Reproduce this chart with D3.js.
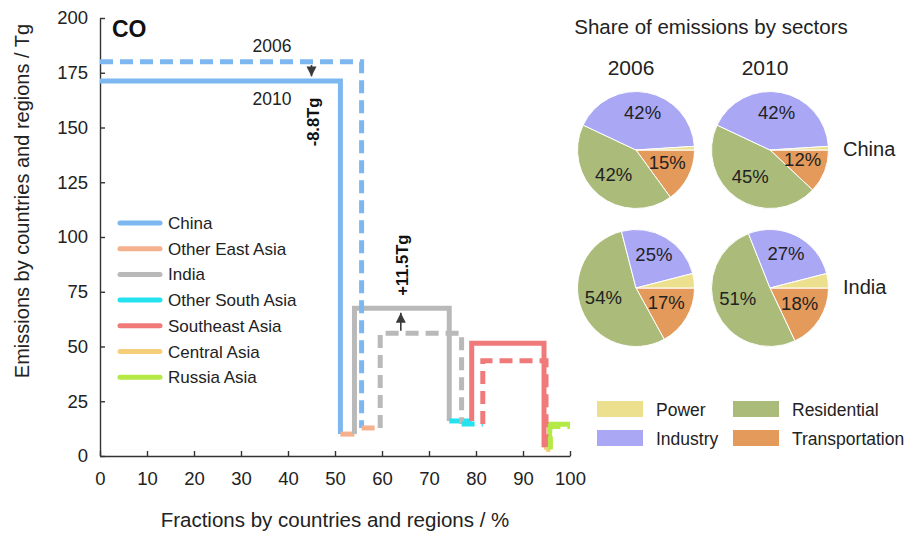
<!DOCTYPE html>
<html>
<head>
<meta charset="utf-8">
<script src="https://cdn.jsdelivr.net/npm/d3@7"></script>
<style>
  html, body { margin: 0; padding: 0; background: #fff; }
  svg { display: block; font-family: "Liberation Sans", Arial, sans-serif; }
</style>
</head>
<body>
<svg id="chart" width="917" height="536"></svg>
<script>
// Regions along the cumulative axis, in drawing order
const regions = ["China", "Other East Asia", "India", "Other South Asia", "Southeast Asia", "Central Asia", "Russia Asia"];
const regionColors = ["#7db7f0", "#f5b08e", "#b9b9b9", "#25e3ee", "#f07a7a", "#f5cf7c", "#b5e945"];
// CO emissions by region (Tg)
const emis2006 = [180, 12.8, 56, 14.6, 43.5, 3, 13.5];
const emis2010 = [171.2, 10, 67.5, 16, 51.5, 4, 14.5];

const xTicks = [0, 10, 20, 30, 40, 50, 60, 70, 80, 90, 100];
const yTicks = [0, 25, 50, 75, 100, 125, 150, 175, 200];

// Sector shares (%) for the pies
const sectors = ["Power", "Industry", "Residential", "Transportation"];
const sectorColors = ["#ece08e", "#aaa7f4", "#abbb79", "#e49a5a"];
const pieYears = ["2006", "2010"];
const pieCountries = ["China", "India"];
const chinaShares2006 = [1, 42, 42, 15];
const chinaShares2010 = [1, 42, 45, 12];
const indiaShares2006 = [4, 25, 54, 17];
const indiaShares2010 = [4, 27, 51, 18];

const svg = d3.select("#chart");
const x = d3.scaleLinear().domain([0, 100]).range([100, 570]);
const y = d3.scaleLinear().domain([0, 200]).range([456, 18]);
const textColor = "#222";

// Axes with inward ticks
const xAxis = svg.append("g").attr("transform", `translate(0,${y(0)})`)
  .call(d3.axisBottom(x).tickValues(xTicks).tickSizeInner(-5).tickSizeOuter(0).tickPadding(16));
const yAxis = svg.append("g").attr("transform", `translate(${x(0)},0)`)
  .call(d3.axisLeft(y).tickValues(yTicks).tickSizeInner(-5).tickSizeOuter(0).tickPadding(12));
[xAxis, yAxis].forEach(g => {
  g.selectAll(".domain").attr("stroke", "#333").attr("stroke-width", 1.4);
  g.selectAll(".tick line").attr("stroke", "#333").attr("stroke-width", 1.4);
  g.selectAll("text").attr("font-size", 18.5).attr("fill", textColor).attr("font-family", "Liberation Sans, Arial, sans-serif");
});

svg.append("text").attr("x", x(50)).attr("y", 527).attr("text-anchor", "middle")
  .attr("font-size", 20.5).attr("fill", textColor).text("Fractions by countries and regions / %");
svg.append("text").attr("transform", `translate(29,201) rotate(-90)`).attr("text-anchor", "middle")
  .attr("font-size", 20).attr("fill", textColor).text("Emissions by countries and regions / Tg");

svg.append("text").attr("x", 112).attr("y", 37).attr("font-size", 23).attr("font-weight", "bold")
  .attr("fill", "#111").text("CO");

// Step outline per region: width = share of the total, height = emission
function drawSeries(values, dash) {
  const total = d3.sum(values);
  const cum = d3.cumsum(values).map(v => v / total * 100);
  const line = d3.line().x(d => x(d[0])).y(d => y(d[1]));
  values.forEach((v, i) => {
    const x0 = i === 0 ? 0 : cum[i - 1];
    const x1 = cum[i];
    const prev = i === 0 ? v : values[i - 1];
    const next = i === values.length - 1 ? v : values[i + 1];
    const pts = [[x0, Math.min(v, prev)], [x0, v], [x1, v], [x1, Math.min(v, next)]];
    svg.append("path").attr("d", line(pts)).attr("fill", "none")
      .attr("stroke", regionColors[i]).attr("stroke-width", 5)
      .attr("stroke-dasharray", dash).attr("stroke-linejoin", "miter");
  });
}
drawSeries(emis2010, null);
drawSeries(emis2006, "13,7");

// Change arrows
const defs = svg.append("defs");
defs.append("marker").attr("id", "head").attr("viewBox", "0 0 10 10").attr("refX", 10).attr("refY", 5)
  .attr("markerWidth", 10).attr("markerHeight", 11).attr("markerUnits", "userSpaceOnUse").attr("orient", "auto")
  .append("path").attr("d", "M0,0 L10,5 L0,10 Z").attr("fill", "#3a3a3a");

function arrow(xv, from, to) {
  svg.append("line").attr("x1", x(xv)).attr("x2", x(xv))
    .attr("y1", y(from)).attr("y2", y(to) + (to < from ? -2 : 2))
    .attr("stroke", "#3a3a3a").attr("stroke-width", 1.6).attr("marker-end", "url(#head)");
}
arrow(45, emis2006[0] - 1.5, emis2010[0] + 1.2);
arrow(64, emis2006[2] + 1.2, emis2010[2] - 1.2);

const fmt = d => (d > 0 ? "+" : "-") + Math.abs(d).toFixed(1) + "Tg";
svg.append("text").attr("transform", `translate(${x(45) + 7},${y(emis2010[0]) + 41}) rotate(-90)`)
  .attr("text-anchor", "middle").attr("font-size", 16.5).attr("font-weight", "bold").attr("fill", "#111")
  .text(fmt(emis2010[0] - emis2006[0]));
svg.append("text").attr("transform", `translate(${x(64) + 7},${y(emis2010[2]) - 43}) rotate(-90)`)
  .attr("text-anchor", "middle").attr("font-size", 16.5).attr("font-weight", "bold").attr("fill", "#111")
  .text(fmt(emis2010[2] - emis2006[2]));

svg.append("text").attr("x", 272).attr("y", 52).attr("text-anchor", "middle").attr("font-size", 17.5)
  .attr("fill", textColor).text("2006");
svg.append("text").attr("x", 272).attr("y", 105).attr("text-anchor", "middle").attr("font-size", 17.5)
  .attr("fill", textColor).text("2010");

// Region legend
const leg = svg.append("g");
regions.forEach((r, i) => {
  const ly = 223 + i * 25.7;
  leg.append("line").attr("x1", 120).attr("x2", 160).attr("y1", ly).attr("y2", ly)
    .attr("stroke", regionColors[i]).attr("stroke-width", 5).attr("stroke-linecap", "round");
  leg.append("text").attr("x", 168).attr("y", ly + 6).attr("font-size", 17).attr("fill", textColor).text(r);
});

// Sector pies
svg.append("text").attr("x", 711).attr("y", 34).attr("text-anchor", "middle").attr("font-size", 20.5)
  .attr("fill", textColor).text("Share of emissions by sectors");
const pieCx = [636, 770];
const pieCy = [150, 288];
const R = 58.5;
pieYears.forEach((yr, j) => {
  svg.append("text").attr("x", pieCx[j] - 5).attr("y", 75).attr("text-anchor", "middle")
    .attr("font-size", 21).attr("fill", textColor).text(yr);
});
pieCountries.forEach((c, k) => {
  svg.append("text").attr("x", 843).attr("y", pieCy[k] + 6).attr("font-size", 20)
    .attr("fill", textColor).text(c);
});

const pieData = [[chinaShares2006, chinaShares2010], [indiaShares2006, indiaShares2010]];
// Slices run clockwise from 3 o'clock: Transportation, Residential, Industry, Power
const order = [3, 2, 1, 0];
const pie = d3.pie().sort(null).value(d => d.v).startAngle(Math.PI / 2).endAngle(Math.PI / 2 + 2 * Math.PI);
const arc = d3.arc().innerRadius(0).outerRadius(R);
const labelArc = d3.arc().innerRadius(R * 0.6).outerRadius(R * 0.6);
pieData.forEach((row, k) => {
  row.forEach((shares, j) => {
    const g = svg.append("g").attr("transform", `translate(${pieCx[j]},${pieCy[k]})`);
    const arcs = pie(order.map(s => ({ s, v: shares[s] })));
    g.selectAll("path").data(arcs).join("path").attr("d", arc)
      .attr("fill", d => sectorColors[d.data.s]).attr("stroke", "#fff").attr("stroke-width", 1);
    g.selectAll("text").data(arcs.filter(d => d.data.v >= 10)).join("text")
      .attr("transform", d => { const c = labelArc.centroid(d); return `translate(${c[0]},${c[1] - 3})`; })
      .attr("text-anchor", "middle").attr("dy", "0.35em").attr("font-size", 18.5).attr("fill", textColor)
      .text(d => d.data.v + "%");
  });
});

// Sector legend
const sl = svg.append("g");
const slx = [597, 733];
const sly = [401, 430];
sectors.forEach((s, i) => {
  const col = i === 0 || i === 1 ? 0 : 1;
  const row = i === 0 || i === 2 ? 0 : 1;
  sl.append("rect").attr("x", slx[col]).attr("y", sly[row]).attr("width", 46).attr("height", 16)
    .attr("fill", sectorColors[i]);
  sl.append("text").attr("x", slx[col] + 59).attr("y", sly[row] + 14.5).attr("font-size", 17.5)
    .attr("fill", textColor).text(s);
});
</script>
</body>
</html>
